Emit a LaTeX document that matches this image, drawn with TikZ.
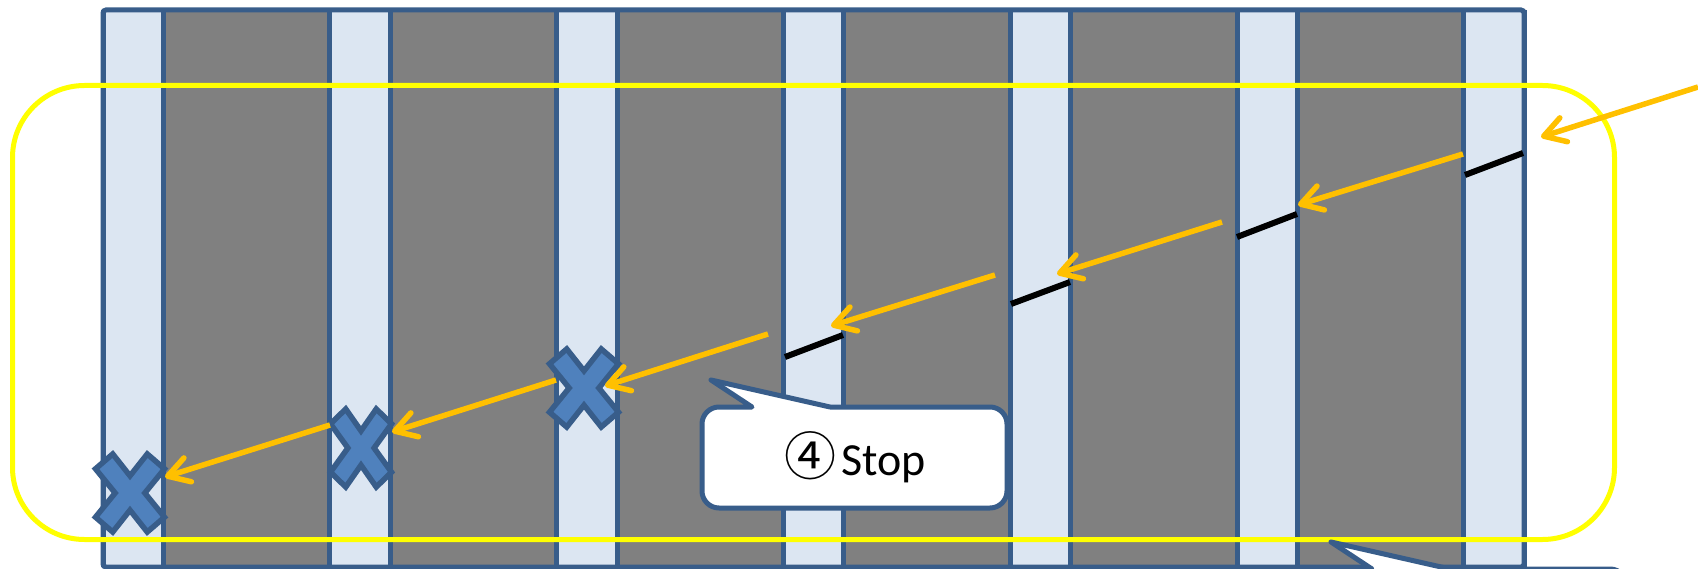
\documentclass[tikz,border=0pt]{standalone}
\usepackage{fontspec}
\setmainfont{Carlito}
\newfontfamily\cjkfont{Noto Sans CJK JP}
\usetikzlibrary{arrows.meta}
\definecolor{lightcol}{HTML}{DCE6F2}
\definecolor{graycol}{HTML}{808080}
\definecolor{bordercol}{HTML}{385D8A}
\definecolor{xfill}{HTML}{4F81BD}
\definecolor{orangecol}{HTML}{FFC000}
\definecolor{yellowcol}{HTML}{FFFF00}
\tikzset{
  colborder/.style={draw=bordercol, line width=5pt},
  yellowbox/.style={draw=yellowcol, line width=5pt, rounded corners=72pt},
  blackseg/.style={draw=black, line width=6pt},
  orangearrow/.style={draw=orangecol, line width=5.5pt, -{Straight Barb[length=21pt,width=25pt,round]}},
  xstyle/.style={fill=xfill, draw=bordercol, line width=5.5pt, line join=miter},
  callout/.style={fill=white, draw=bordercol, line width=5pt, line join=round},
}
\newcommand\calloutshape[2]{%
  \draw[callout, shift={(#1,#2)}] (50,0) -- (9,-27) -- (128,0) -- (288,0)
    arc[start angle=270,end angle=360,radius=17] -- (305,84)
    arc[start angle=0,end angle=90,radius=17] -- (17,101)
    arc[start angle=90,end angle=180,radius=17] -- (0,17)
    arc[start angle=180,end angle=270,radius=17] -- cycle;}
\begin{document}
\begin{tikzpicture}[x=1pt,y=-1pt]
\useasboundingbox (0,0) rectangle (1698,569);
\clip (0,0) rectangle (1698,569);
% columns
\foreach \i in {0,...,6}{
  \pgfmathsetmacro\L{103+226.8*\i}
  \fill[lightcol] (\L,10) rectangle ({\L+60.5},567);
}
\foreach \i in {0,...,5}{
  \pgfmathsetmacro\L{103+226.8*\i}
  \fill[graycol] ({\L+60.5},10) rectangle ({\L+226.8},567);
}
\foreach \i in {0,...,6}{
  \pgfmathsetmacro\L{103+226.8*\i}
  \draw[colborder] (\L,10) -- (\L,567);
  \draw[colborder] ({\L+60.5},10) -- ({\L+60.5},567);
}
\draw[colborder, rounded corners=3pt] (103,567) -- (103,10) -- (1524,10) -- (1524,567) -- cycle;
% yellow frame
\draw[yellowbox] (12.5,85.5) rectangle (1614.5,539.5);
% black segments
\coordinate (b7s) at (1465,175); \coordinate (b7e) at (1523,153);
\coordinate (b6s) at (1237,237); \coordinate (b6e) at (1297,214);
\coordinate (b5s) at (1011,304); \coordinate (b5e) at (1070,282);
\coordinate (b4s) at (785,357);  \coordinate (b4e) at (843,335);
\draw[blackseg] (b7s) -- (b7e);
\draw[blackseg] (b6s) -- (b6e);
\draw[blackseg] (b5s) -- (b5e);
\draw[blackseg] (b4s) -- (b4e);
% X marks
\foreach \cx/\cy/\hw in {130/493/34.5, 361/448/30.5, 584/388/34.5}{
  \draw[xstyle, shift={(\cx,\cy)}, xscale=\hw, yscale=39]
    (-1,-0.62) -- (-0.5,-1) -- (0,-0.44) -- (0.5,-1) -- (1,-0.62) -- (0.43,0)
    -- (1,0.62) -- (0.5,1) -- (0,0.44) -- (-0.5,1) -- (-1,0.62) -- (-0.43,0) -- cycle;
}
% orange arrows
\coordinate (a1s) at (1698,87);  \coordinate (a1e) at (1541,137);
\coordinate (a2s) at (1463,154); \coordinate (a2e) at (1298,205);
\coordinate (a3s) at (1222,222); \coordinate (a3e) at (1057,274);
\coordinate (a4s) at (995,275);  \coordinate (a4e) at (831,326);
\coordinate (a5s) at (768,334);  \coordinate (a5e) at (605,386);
\coordinate (a6s) at (556,380);  \coordinate (a6e) at (392,432);
\coordinate (a7s) at (330,425);  \coordinate (a7e) at (165,477);
\foreach \k in {1,...,7}{
  \draw[orangearrow] (a\k s) -- (a\k e);
}
% callouts
\calloutshape{702}{407}
\calloutshape{1322}{569}
\node[anchor=base, inner sep=0pt, font=\fontsize{46}{55}\selectfont] (stoptext) at (855,475)
  {{\cjkfont\fontsize{52}{55}\selectfont ④}\hspace{5pt}Stop};
\end{tikzpicture}
\end{document}
